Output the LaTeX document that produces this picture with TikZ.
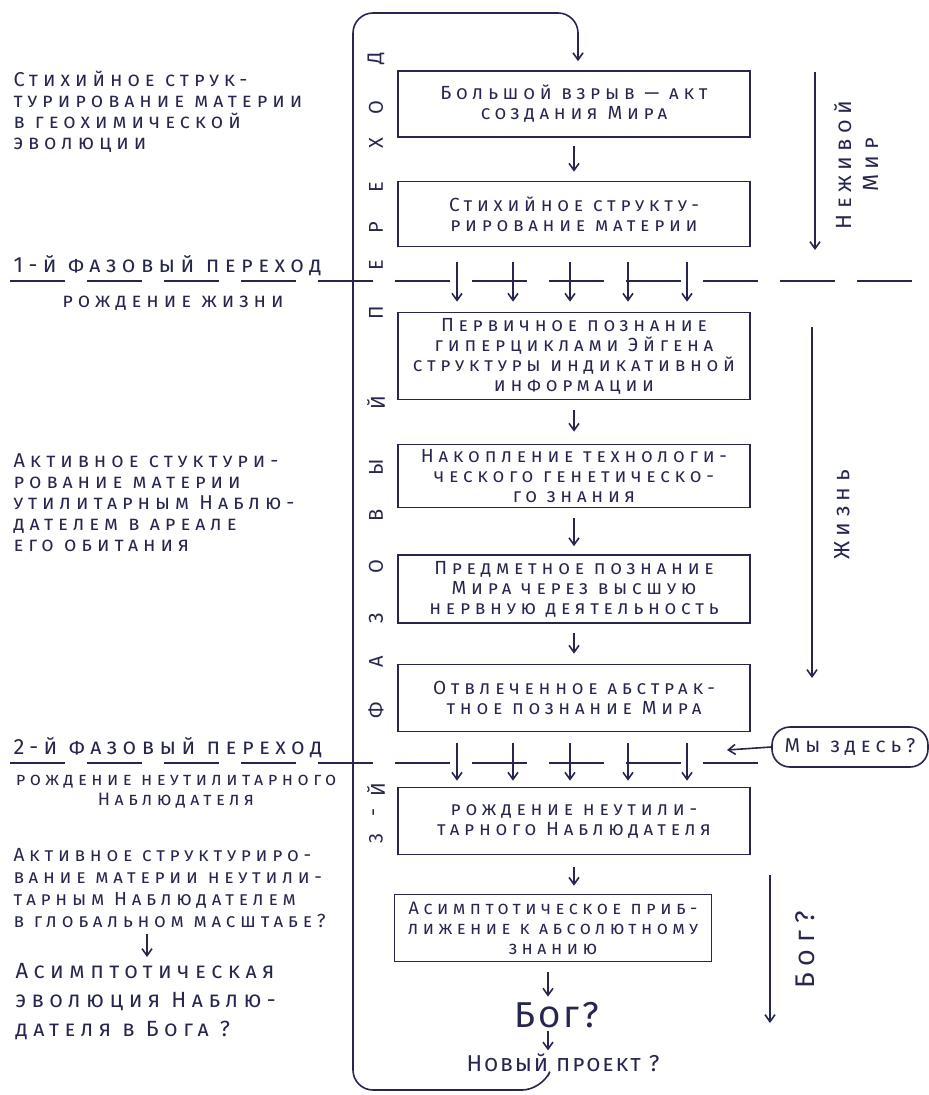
\documentclass[tikz,border=0pt]{standalone}
\usepackage{fontspec}
\setmainfont{Fira Sans}
\newfontfamily\hand[Letters=SmallCaps,LetterSpace=25]{Fira Sans}
\newfontfamily\handn[Letters=SmallCaps,LetterSpace=8]{Fira Sans}
\usetikzlibrary{arrows.meta}
\definecolor{ink}{HTML}{26264E}

\begin{document}
\begin{tikzpicture}[x=1pt,y=-1pt,
    every node/.style={text=ink, font=\hand\fontsize{19}{20}\selectfont},
    box/.style={draw=ink, line width=1.6pt, align=center, minimum width=352pt, inner sep=1pt},
    note/.style={align=left, anchor=north west, font=\hand\fontsize{20}{21}\selectfont},
    phase/.style={anchor=base west, font=\hand\fontsize{22}{26}\selectfont},
    link/.style={draw=ink, line width=1.6pt, -{Straight Barb[length=7pt,width=10pt]}},
    sep/.style={draw=ink, line width=1.6pt, dash pattern=on 55pt off 22pt}]
  \useasboundingbox (0,0) rectangle (929,1095);

  % main chain
  \node[box, minimum height=66pt] (b1) at (574,104) {Большой взрыв — акт\\создания Мира};
  \node[box, minimum height=65pt] (b2) at (574,214) {Стихийное структу-\\рирование материи};
  \node[box, minimum height=87pt] (b3) at (574,356) {Первичное познание\\гиперциклами Эйгена\\структуры индикативной\\информации};
  \node[box, minimum height=63pt] (b4) at (574,476) {Накопление технологи-\\ческого генетическо-\\го знания};
  \node[box, minimum height=68pt] (b5) at (574,589) {Предметное познание\\Мира через высшую\\нервную деятельность};
  \node[box, minimum height=67pt] (b6) at (574,698) {Отвлеченное абстрак-\\тное познание Мира};
  \node[box, minimum height=67pt] (b7) at (574,821) {рождение неутили-\\тарного Наблюдателя};
  \node[box, minimum height=67pt, minimum width=317pt, font=\hand\fontsize{18}{20}\selectfont] (b8) at (553,928) {Асимптотическое приб-\\лижение к абсолютному\\знанию};
  \node[font=\handn\fontsize{36}{40}\selectfont] (god) at (557,1015) {Бог?};
  \node[font=\handn\fontsize{23}{26}\selectfont] (np) at (563,1063) {Новый проект ?};

  \draw[link, shorten <=8pt, shorten >=9pt] (b1) -- (b2);
  \draw[link, shorten <=10pt, shorten >=12pt] (b3) -- (b4);
  \draw[link, shorten <=10pt, shorten >=8pt] (b4) -- (b5);
  \draw[link, shorten <=9pt, shorten >=10pt] (b5) -- (b6);
  \draw[link, shorten <=12pt, shorten >=8pt] (b7.south) -- (b7.south |- b8.north);
  \coordinate (gx) at (548,0);
  \draw[link, shorten <=10pt, shorten >=2pt] (b8.south -| gx) -- (god.north -| gx);
  \draw[link] (god.south -| gx) -- (np.north -| gx);

  % phase transitions
  \draw[sep] (10,281) -- (929,281);
  \draw[sep] (10,763) -- (929,763);
  \foreach \x [count=\i] in {457,513,570,628,687} {
    \coordinate (p\i) at (\x,262);
    \draw[link, shorten >=10pt] (p\i) -- (p\i |- b3.north);
    \coordinate (q\i) at (\x,743);
    \draw[link, shorten >=6pt] (q\i) -- (q\i |- b7.north);
  }

  % return loop
  \coordinate (lp) at (548,1076);
  \draw[link, rounded corners=20pt, shorten >=9pt] (lp) -- (542,1090) -- (353,1090) -- (353,13) -- (578,13) -- ([xshift=4pt]b1.north);
  \foreach \l/\y in {Д/58, О/108, Х/143, Е/187, Р/228, Е/265, П/313, Й/403, Ы/467, В/515, О/567, З/618, А/662, Ф/710, Й/790, -/812, 3/838}
    \node[rotate=90, font=\handn\fontsize{20}{24}\selectfont] (r\y) at (376,\y) {\l};

  % right side
  \coordinate (d1) at (815,72);
  \coordinate (d2) at (815,250);
  \draw[link] (d1) -- (d2);
  \node[rotate=90, align=center, font=\hand\fontsize{22}{27}\selectfont] (dead) at (856,165) {Неживой\\Мир};
  \coordinate (l1) at (812,327);
  \coordinate (l2) at (812,678);
  \draw[link] (l1) -- (l2);
  \node[rotate=90, font=\hand\fontsize{22}{24}\selectfont] (life) at (842,515) {Жизнь};
  \coordinate (g1) at (770,875);
  \coordinate (g2) at (770,1023);
  \draw[link] (g1) -- (g2);
  \node[rotate=90, font=\hand\fontsize{27}{30}\selectfont] (godq) at (805,950) {Бог?};
  \node[draw=ink, line width=1.6pt, fill=white, rounded corners=18pt, minimum width=156pt, minimum height=40pt, inner sep=1pt, font=\hand\fontsize{20}{24}\selectfont] (we) at (850,747) {Мы здесь?};
  \coordinate (wa) at (727,750);
  \draw[link] (we.west) -- (wa);

  % left side
  \node[note] (t1) at (10,68) {Стихийное струк-\\турирование материи\\в геохимической\\эволюции};
  \node[phase] (t2) at (10,272) {1-й фазовый переход};
  \node[font=\hand\fontsize{20}{24}\selectfont] (t3) at (173,303) {рождение жизни};
  \node[note] (t4) at (10,450) {Активное стуктури-\\рование материи\\утилитарным Наблю-\\дателем в ареале\\его обитания};
  \node[phase] (t5) at (10,754) {2-й фазовый переход};
  \node[align=center, font=\hand\fontsize{18}{20}\selectfont] (t6) at (176,792) {рождение неутилитарного\\Наблюдателя};
  \node[note, font=\hand\fontsize{19}{22}\selectfont] (t7) at (10,845) {Активное структуриро-\\вание материи неутили-\\тарным Наблюдателем\\в глобальном масштабе?};
  \node[note, font=\hand\fontsize{22}{29}\selectfont] (t8) at (12,960) {Асимптотическая\\эволюция Наблю-\\дателя в Бога ?};
  \coordinate (ax) at (147,0);
  \draw[link, shorten <=3pt, shorten >=3pt] (t7.south -| ax) -- (t8.north -| ax);
\end{tikzpicture}
\end{document}
